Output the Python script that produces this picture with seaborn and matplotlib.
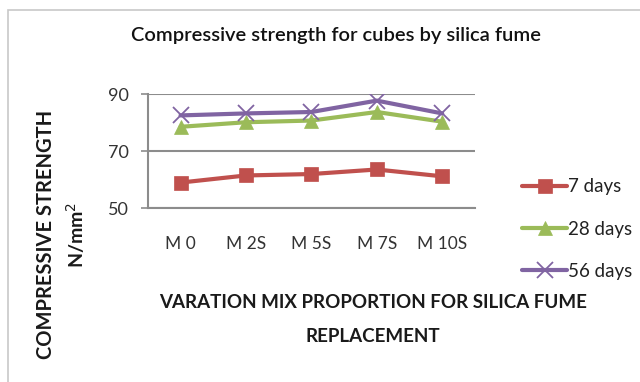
import matplotlib
matplotlib.use("Agg")
import matplotlib.pyplot as plt
import matplotlib.patches as mpatches
import seaborn as sns
import pandas as pd

mixes = ["M 0", "M 2S", "M 5S", "M 7S", "M 10S"]
days_7 = [59.0, 61.5, 62.0, 63.6, 61.2]
days_28 = [78.6, 80.2, 80.8, 83.8, 80.4]
days_56 = [82.6, 83.3, 83.8, 87.8, 83.3]
series_names = ["7 days", "28 days", "56 days"]
y_ticks = [50, 70, 90]

sns.set_theme(style="white")
plt.rcParams["font.family"] = ["Lato", "DejaVu Sans"]

df = pd.DataFrame({
    "mix": mixes * 3,
    "pos": list(range(len(mixes))) * 3,
    "strength": days_7 + days_28 + days_56,
    "age": [series_names[0]] * 5 + [series_names[1]] * 5 + [series_names[2]] * 5,
})

colors = {"7 days": "#C0504D", "28 days": "#9BBB59", "56 days": "#8064A2"}
markers = {"7 days": "s", "28 days": "^", "56 days": "x"}
msizes = {"7 days": 10, "28 days": 10, "56 days": 11}

fig = plt.figure(figsize=(6.4, 3.82), dpi=100)
ax = fig.add_axes([0.231, 0.455, 0.511, 0.298])

for name in series_names:
    sub = df[df["age"] == name]
    sns.lineplot(data=sub, x="pos", y="strength", ax=ax, color=colors[name],
                 linewidth=3, marker=markers[name], markersize=msizes[name],
                 markeredgewidth=1.3 if name == "56 days" else 0.5,
                 markeredgecolor=colors[name], label=name, sort=False)

ax.set_xlim(-0.5, len(mixes) - 0.5)
ax.set_ylim(50, 90)
ax.set_yticks(y_ticks)
ax.set_yticklabels([str(v) for v in y_ticks], fontsize=13, color="#333333")
ax.set_xticks(range(len(mixes)))
ax.set_xticklabels(mixes, fontsize=12.5, color="#333333")
ax.set_xticks([i - 0.5 for i in range(len(mixes) + 1)], minor=True)
ax.tick_params(axis="x", which="major", length=0, pad=20)
ax.tick_params(axis="x", which="minor", length=6, width=1.2, color="#8c8c8c", direction="out")
ax.tick_params(axis="y", which="major", length=5, width=1.2, color="#8c8c8c",
               direction="out", left=True, pad=9)
ax.set_xlabel("")
ax.set_ylabel("")
ax.yaxis.grid(True, color="#8c8c8c", linewidth=1.5)
ax.set_axisbelow(True)
for side in ["top", "right"]:
    ax.spines[side].set_visible(False)
for side in ["left", "bottom"]:
    ax.spines[side].set_color("#8c8c8c")
    ax.spines[side].set_linewidth(1.5)

leg = ax.legend(loc="center left", bbox_to_anchor=(0.79, 0.40),
                bbox_transform=fig.transFigure, frameon=False, fontsize=13.5,
                handlelength=2.4, handletextpad=0.05, labelspacing=1.35)
for t in leg.get_texts():
    t.set_color("#222222")

fig.text(0.525, 0.908, "Compressive strength for cubes by silica fume",
         ha="center", va="center", fontsize=14.5, fontweight="semibold", color="#111111")

fig.text(0.583, 1 - 303 / 382, "VARATION MIX PROPORTION FOR SILICA FUME",
         ha="center", va="center", fontsize=13.5, fontweight="bold", color="#1a1a1a")
fig.text(0.583, 1 - 337 / 382, "REPLACEMENT",
         ha="center", va="center", fontsize=13.5, fontweight="bold", color="#1a1a1a")

fig.text(46 / 640, 1 - 234 / 382, "COMPRESSIVE STRENGTH", rotation=90,
         ha="center", va="center", fontsize=14.5, fontweight="bold", color="#1a1a1a")
fig.text(76 / 640, 1 - 235 / 382, "N/mm$^2$", rotation=90,
         ha="center", va="center", fontsize=14, fontweight="bold", color="#1a1a1a")

fig.patches.append(mpatches.Rectangle((8 / 640, -0.02), 640, 1 - 10 / 382 + 0.02,
                                      transform=fig.transFigure, fill=False,
                                      edgecolor="#c8c8c8", linewidth=1.2))

fig.savefig("out.png", dpi=100, facecolor="white")
